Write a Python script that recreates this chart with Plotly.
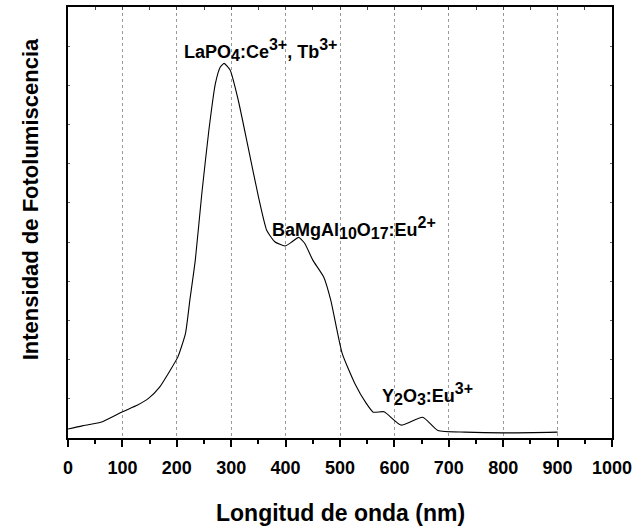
import plotly.graph_objects as go

# Wavelength (nm) and photoluminescence intensity (arbitrary units)
wavelength = [0, 26, 60, 100, 128, 148, 168, 188, 202, 216, 224, 234, 246, 259, 271, 280,
              287, 298, 313, 331, 350, 365, 380, 399, 412, 424, 435, 450, 470, 483,
              504, 527, 548, 561, 581, 612, 652, 680, 730, 798, 900]
intensity = [0.23, 0.31, 0.40, 0.67, 0.84, 1.01, 1.29, 1.73, 2.07, 2.67, 3.52, 4.54, 6.24, 7.86, 9.05, 9.47,
             9.56, 9.39, 8.62, 7.43, 6.16, 5.31, 5.01, 4.90, 5.01, 5.12, 4.97, 4.54, 4.11, 3.52,
             2.16, 1.40, 0.89, 0.66, 0.67, 0.33, 0.53, 0.19, 0.15, 0.13, 0.15]

x_ticks = [0, 100, 200, 300, 400, 500, 600, 700, 800, 900, 1000]


def sub(t):
    return f"<sub><span style='font-size:16px'>{t}</span></sub>"


def sup(t):
    return f"<sup><span style='font-size:16px'>{t}</span></sup>"


labels = [
    {"text": "LaPO" + sub("4") + ":Ce" + sup("3+") + ", Tb" + sup("3+"), "x": 210, "y": 9.9},
    {"text": "BaMgAl" + sub("10") + "O" + sub("17") + ":Eu" + sup("2+"), "x": 371, "y": 5.35},
    {"text": "Y" + sub("2") + "O" + sub("3") + ":Eu" + sup("3+"), "x": 574, "y": 1.12},
]

FONT = "Liberation Sans, Arial, sans-serif"

fig = go.Figure()
fig.add_trace(go.Scatter(x=wavelength, y=intensity, mode="lines",
                         line=dict(color="black", width=1.1, shape="spline", smoothing=0.5),
                         showlegend=False, hoverinfo="skip"))
# invisible trace to activate the mirror axes
fig.add_trace(go.Scatter(x=[None], y=[None], xaxis="x2", yaxis="y2", showlegend=False))

for lab in labels:
    fig.add_annotation(x=lab["x"], y=lab["y"], text="<b>" + lab["text"] + "</b>",
                       xanchor="left", yanchor="middle", showarrow=False,
                       font=dict(family=FONT, size=18, color="black"))

fig.add_annotation(xref="paper", yref="paper", x=0.5, y=-0.175, text="<b>Longitud de onda (nm)</b>",
                   showarrow=False, xanchor="center", yanchor="middle",
                   font=dict(family=FONT, size=23, color="black"))
fig.add_annotation(xref="paper", yref="paper", x=-0.069, y=0.555, text="<b>Intensidad de Fotolumiscencia</b>",
                   showarrow=False, xanchor="center", yanchor="middle", textangle=-90,
                   font=dict(family=FONT, size=22, color="black"))

fig.update_layout(
    width=639, height=527,
    margin=dict(l=68, r=22, t=7, b=89),
    paper_bgcolor="white", plot_bgcolor="white",
    font=dict(family=FONT, color="black"),
    xaxis=dict(range=[0, 1000], tickvals=x_ticks, ticktext=[f"<b>{v}</b>" for v in x_ticks],
               ticks="outside", ticklen=7, tickwidth=1.5, tickcolor="black", ticklabelstandoff=5,
               minor=dict(dtick=50, ticks="outside", ticklen=4, tickwidth=1.5, tickcolor="black", showgrid=False),
               showgrid=True, gridcolor="#9a9a9a", griddash="dot", gridwidth=1,
               showline=True, linecolor="black", linewidth=2, zeroline=False,
               tickfont=dict(family=FONT, size=18, color="black")),
    xaxis2=dict(range=[0, 1000], overlaying="x", side="top", tickvals=x_ticks,
                showticklabels=False, ticks="inside", ticklen=3, tickcolor="#444",
                minor=dict(dtick=50, ticks="inside", ticklen=3, tickcolor="#444", showgrid=False),
                showgrid=False, showline=True, linecolor="black", linewidth=2, zeroline=False),
    yaxis=dict(range=[0, 11], dtick=1, showticklabels=False, ticks="inside", ticklen=2,
               tickcolor="#666", showgrid=False, showline=True, linecolor="black", linewidth=2,
               zeroline=False),
    yaxis2=dict(range=[0, 11], dtick=1, overlaying="y", side="right", showticklabels=False,
                ticks="inside", ticklen=2, tickcolor="#666", showgrid=False, showline=True,
                linecolor="black", linewidth=2, zeroline=False),
)

fig.write_html("out.html")
